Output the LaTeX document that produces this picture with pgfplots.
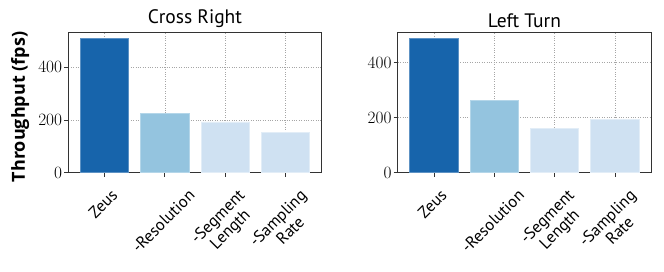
\documentclass[border=0pt]{standalone}
\usepackage{fontspec}
\setmainfont{PT Sans}
\newfontfamily\ylfont{Open Sans}
\usepackage{graphicx}
\usepackage{pgfplots}
\pgfplotsset{compat=1.18}
\definecolor{cdark}{HTML}{1764AB}
\definecolor{cmid}{HTML}{94C4DF}
\definecolor{clight}{HTML}{CFE1F2}
\definecolor{axcol}{HTML}{333333}
\newcommand{\rl}[1]{\rotatebox{45}{\begin{tabular}{@{}c@{}}#1\end{tabular}}}
\pgfplotsset{
  myax/.style={
    scale only axis, width=253.4pt, height=140.7pt,
    xmin=-0.6, xmax=3.6, ymin=0,
    xtick={0,1,2,3},
    xticklabels={\rl{Zeus},\rl{-Resolution},\rl{-Segment\\Length},\rl{-Sampling\\Rate}},
    ytick={0,200,400},
    axis line style={axcol, line width=0.8pt},
    tick style={axcol, line width=0.8pt},
    tick align=outside, major tick length=4pt,
    xtick pos=bottom, ytick pos=left,
    grid=major,
    major grid style={dotted, gray!70, line width=0.5pt},
    yticklabel style={font=\fontsize{16}{18}\selectfont, inner sep=2pt},
    xticklabel style={font=\fontsize{16.5}{17.5}\selectfont, anchor=north, inner sep=0pt, yshift=-11pt},
    title style={font=\fontsize{19.5}{21}\selectfont, yshift=-5pt},
    ybar, bar width=0.8, bar shift=0pt,
  }
}
\begin{document}
\begin{tikzpicture}[x=1pt,y=1pt]
\path (0,0) rectangle (664,271);
\begin{axis}[myax, at={(68.3pt,98.3pt)}, anchor=south west, ymax=534,
  title={Cross Right},
  ylabel={\textbf{Throughput (fps)}},
  ylabel style={font=\ylfont\fontsize{18}{20}\selectfont, at={(axis description cs:-0.19,0.467)}, anchor=center},
]
\addplot[fill=cdark, draw=cdark!70!white, line width=0.6pt] coordinates {(0,509)};
\addplot[fill=cmid, draw=cmid!70!white, line width=0.6pt] coordinates {(1,227)};
\addplot[fill=clight, draw=clight!60!white, line width=0.6pt] coordinates {(2,193) (3,152)};
\end{axis}
\begin{axis}[myax, at={(397.7pt,98.3pt)}, anchor=south west, ymax=511.4,
  title={Left Turn},
]
\addplot[fill=cdark, draw=cdark!70!white, line width=0.6pt] coordinates {(0,487)};
\addplot[fill=cmid, draw=cmid!70!white, line width=0.6pt] coordinates {(1,264)};
\addplot[fill=clight, draw=clight!60!white, line width=0.6pt] coordinates {(2,160) (3,195)};
\end{axis}
\end{tikzpicture}
\end{document}
